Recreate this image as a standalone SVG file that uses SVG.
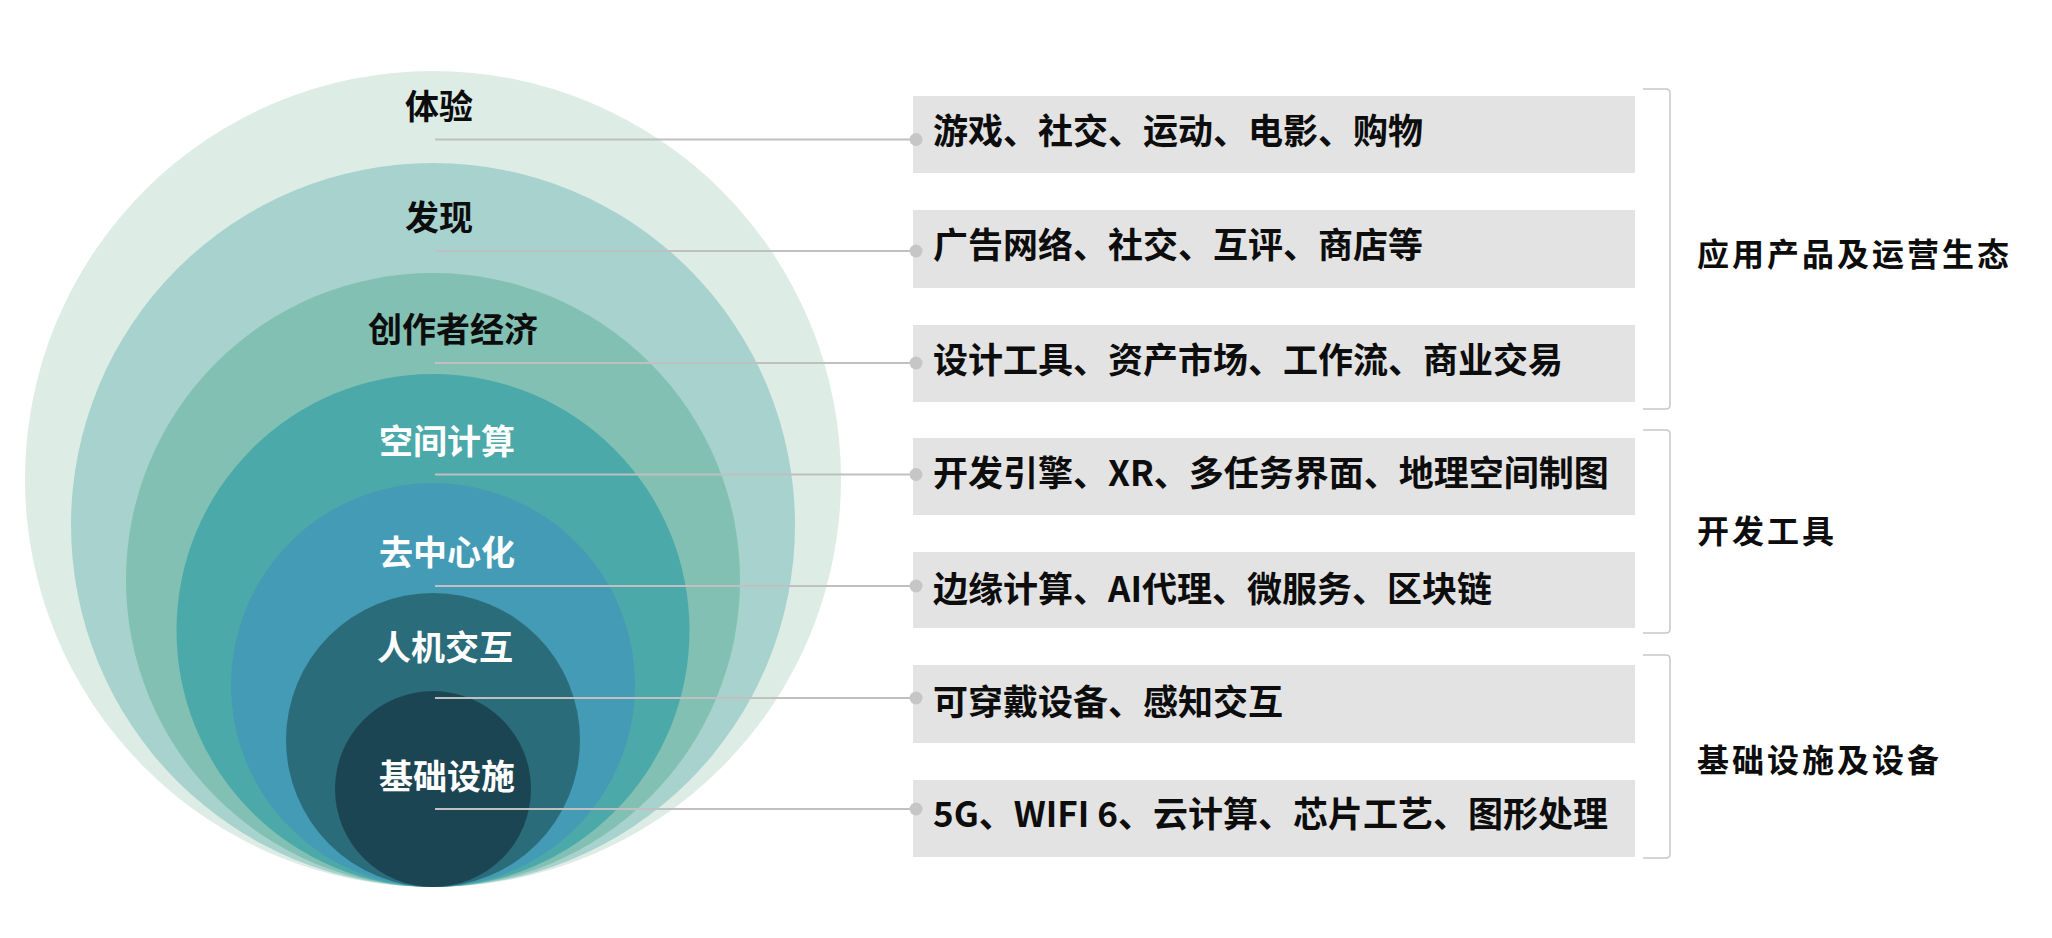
<svg xmlns="http://www.w3.org/2000/svg" width="2052" height="938" viewBox="0 0 2052 938">
<style>
.lbl{font-family:"Noto Sans CJK SC","Noto Sans",sans-serif;font-weight:700;font-size:34px}
.dark{fill:#0d0d0d}
.light{fill:#ffffff}
.box{fill:#e3e3e3}
.btxt{font-family:"Noto Sans CJK SC","Noto Sans",sans-serif;font-weight:700;font-size:35px;fill:#0d0d0d}
.cat{font-family:"Noto Sans CJK SC","Noto Sans",sans-serif;font-weight:700;font-size:32px;letter-spacing:3px;fill:#0d0d0d}
.conn{stroke:#c0c0c0;stroke-width:2;fill:none}
.dot{fill:#c6c6c6}
.brk{stroke:#c8c8c8;stroke-width:1.5;fill:none}
</style>
<rect width="2052" height="938" fill="#ffffff"/>
<g id="circles">
<g id="n-tiyan"><circle cx="433" cy="479" r="408" fill="#ddede6"/></g>
<g id="n-faxian"><circle cx="433" cy="525" r="362" fill="#a8d2cd"/></g>
<g id="n-chuangzuo"><circle cx="433" cy="580" r="307" fill="#82c0b3"/></g>
<g id="n-kongjian"><circle cx="433" cy="630.5" r="256.5" fill="#4ba9a9"/></g>
<g id="n-quzhongxin"><circle cx="433" cy="685" r="202" fill="#449bb5"/></g>
<g id="n-renji"><circle cx="433" cy="740" r="147" fill="#2b6c7b"/></g>
<g id="n-jichu"><circle cx="433" cy="789" r="98" fill="#1c4554"/></g>
</g>
<g id="connectors">
<line class="conn" x1="435" y1="139.5" x2="916" y2="139.5"/>
<line class="conn" x1="435" y1="251" x2="916" y2="251"/>
<line class="conn" x1="435" y1="363" x2="916" y2="363"/>
<line class="conn" x1="435" y1="474.5" x2="916" y2="474.5"/>
<line class="conn" x1="435" y1="586" x2="916" y2="586"/>
<line class="conn" x1="435" y1="698" x2="916" y2="698"/>
<line class="conn" x1="435" y1="809" x2="916" y2="809"/>
</g>
<g id="circle-labels">
<text class="lbl dark" x="405" y="119">体验</text>
<text class="lbl dark" x="405" y="230">发现</text>
<text class="lbl dark" x="368" y="342">创作者经济</text>
<text class="lbl light" x="379" y="454">空间计算</text>
<text class="lbl light" x="379" y="565">去中心化</text>
<text class="lbl light" x="377" y="660">人机交互</text>
<text class="lbl light" x="379" y="789">基础设施</text>
</g>
<g id="box1"><rect class="box" x="913" y="96" width="722" height="77"/><circle class="dot" cx="916" cy="139.5" r="6.5"/><text class="btxt" x="933" y="144">游戏、社交、运动、电影、购物</text></g>
<g id="box2"><rect class="box" x="913" y="210" width="722" height="78"/><circle class="dot" cx="916" cy="251" r="6.5"/><text class="btxt" x="933" y="258">广告网络、社交、互评、商店等</text></g>
<g id="box3"><rect class="box" x="913" y="325" width="722" height="77"/><circle class="dot" cx="916" cy="363" r="6.5"/><text class="btxt" x="933" y="373">设计工具、资产市场、工作流、商业交易</text></g>
<g id="box4"><rect class="box" x="913" y="438" width="722" height="77"/><circle class="dot" cx="916" cy="474.5" r="6.5"/><text class="btxt" x="933" y="486">开发引擎、XR、多任务界面、地理空间制图</text></g>
<g id="box5"><rect class="box" x="913" y="552" width="722" height="76"/><circle class="dot" cx="916" cy="586" r="6.5"/><text class="btxt" x="933" y="602">边缘计算、AI代理、微服务、区块链</text></g>
<g id="box6"><rect class="box" x="913" y="665" width="722" height="78"/><circle class="dot" cx="916" cy="698" r="6.5"/><text class="btxt" x="933" y="715">可穿戴设备、感知交互</text></g>
<g id="box7"><rect class="box" x="913" y="780" width="722" height="77"/><circle class="dot" cx="916" cy="809" r="6.5"/><text class="btxt" x="933" y="827">5G、WIFI 6、云计算、芯片工艺、图形处理</text></g>
<g id="group1"><path class="brk" d="M1643,89 H1666 Q1670,89 1670,93 V405 Q1670,409 1666,409 H1643"/><text class="cat" x="1697" y="266">应用产品及运营生态</text></g>
<g id="group2"><path class="brk" d="M1643,430 H1666 Q1670,430 1670,434 V629 Q1670,633 1666,633 H1643"/><text class="cat" x="1697" y="543">开发工具</text></g>
<g id="group3"><path class="brk" d="M1643,655 H1666 Q1670,655 1670,659 V854 Q1670,858 1666,858 H1643"/><text class="cat" x="1697" y="772">基础设施及设备</text></g>
</svg>
